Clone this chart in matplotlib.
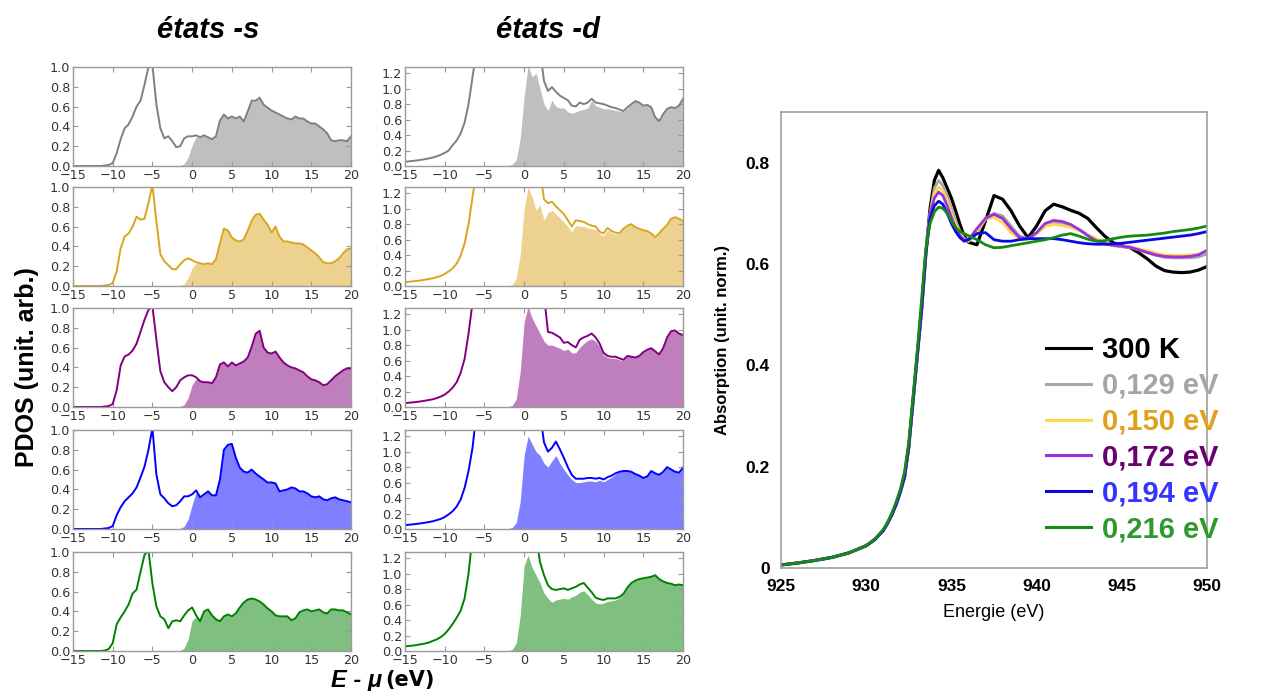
import numpy as np
import matplotlib
matplotlib.use("Agg")
import matplotlib.pyplot as plt
from matplotlib.ticker import FormatStrFormatter

# %%
## PDOS data, E - mu grid in eV (0.5 eV step)
energy = np.arange(-15, 20.5, 0.5)

s_gray = [0, 0, 0, 0, 0, 0, 0, 0, 0.005,
          0.01, 0.03, 0.13, 0.27, 0.38, 0.42, 0.5, 0.6, 0.66, 0.82,
          1.0, 1.02, 0.62, 0.38, 0.28, 0.3, 0.25, 0.19, 0.2, 0.28,
          0.3, 0.3, 0.31, 0.29, 0.31, 0.29, 0.27, 0.3, 0.46, 0.52,
          0.48, 0.5, 0.48, 0.5, 0.45, 0.55, 0.66, 0.66, 0.69, 0.62,
          0.59, 0.56, 0.54, 0.52, 0.5, 0.48, 0.47, 0.5, 0.48, 0.48,
          0.45, 0.43, 0.43, 0.4, 0.37, 0.33, 0.26, 0.25, 0.26, 0.26,
          0.25, 0.3]
s_gold = [0, 0, 0, 0, 0, 0, 0, 0, 0.005,
          0.01, 0.03, 0.15, 0.38, 0.5, 0.53, 0.6, 0.7, 0.67, 0.68,
          0.84, 1.02, 0.65, 0.32, 0.25, 0.21, 0.17, 0.17, 0.22, 0.26,
          0.28, 0.26, 0.24, 0.23, 0.22, 0.23, 0.22, 0.27, 0.43, 0.58,
          0.56, 0.49, 0.46, 0.45, 0.47, 0.56, 0.66, 0.72, 0.73, 0.67,
          0.62, 0.54, 0.6, 0.5, 0.45, 0.45, 0.44, 0.43, 0.43, 0.42,
          0.39, 0.36, 0.33, 0.29, 0.24, 0.23, 0.23, 0.25, 0.28, 0.33,
          0.37, 0.38]
s_purple = [0, 0, 0, 0, 0, 0, 0, 0, 0.005,
            0.01, 0.03, 0.17, 0.42, 0.51, 0.53, 0.57, 0.64, 0.76, 0.88,
            0.98, 1.02, 0.68, 0.36, 0.25, 0.2, 0.16, 0.2, 0.27, 0.3,
            0.32, 0.32, 0.3, 0.26, 0.25, 0.25, 0.24, 0.3, 0.43, 0.45,
            0.41, 0.45, 0.42, 0.44, 0.46, 0.5, 0.61, 0.74, 0.77, 0.6,
            0.55, 0.54, 0.56, 0.5, 0.45, 0.42, 0.4, 0.39, 0.37, 0.35,
            0.31, 0.28, 0.27, 0.25, 0.22, 0.23, 0.27, 0.31, 0.34, 0.37,
            0.39, 0.39]
s_blue = [0, 0, 0, 0, 0, 0, 0, 0, 0.005,
          0.01, 0.03, 0.14, 0.22, 0.28, 0.32, 0.36, 0.42, 0.52, 0.63,
          0.8, 1.02, 0.55, 0.35, 0.31, 0.26, 0.23, 0.24, 0.28, 0.33,
          0.33, 0.35, 0.39, 0.32, 0.35, 0.38, 0.34, 0.34, 0.5, 0.8,
          0.85, 0.86, 0.72, 0.62, 0.58, 0.57, 0.6, 0.56, 0.53, 0.5,
          0.47, 0.47, 0.46, 0.38, 0.39, 0.4, 0.42, 0.41, 0.38, 0.38,
          0.36, 0.33, 0.32, 0.33, 0.3, 0.29, 0.31, 0.32, 0.3, 0.29,
          0.28, 0.27]
s_green = [0, 0, 0, 0, 0, 0, 0, 0, 0.005,
           0.02, 0.08, 0.27, 0.34, 0.4, 0.47, 0.58, 0.62, 0.8, 0.97,
           1.02, 0.68, 0.45, 0.35, 0.32, 0.23, 0.3, 0.31, 0.3, 0.36,
           0.41, 0.44, 0.36, 0.3, 0.4, 0.42, 0.36, 0.32, 0.3, 0.35,
           0.37, 0.35, 0.38, 0.44, 0.49, 0.52, 0.53, 0.52, 0.5, 0.47,
           0.43, 0.4, 0.36, 0.35, 0.35, 0.35, 0.31, 0.33, 0.39, 0.41,
           0.42, 0.4, 0.41, 0.42, 0.39, 0.38, 0.42, 0.42, 0.41, 0.41,
           0.39, 0.37]
# unoccupied part of the s states (share of the curve that is shaded)
s_fill_frac = [0] * 27 + [0.02, 0.08, 0.3, 0.7, 0.95, 1.0] + [1] * 38

d_gray = ([0.055, 0.06, 0.066, 0.072, 0.08, 0.088, 0.098, 0.11, 0.125,
           0.145, 0.17, 0.2, 0.27, 0.33, 0.42, 0.56, 0.8, 1.15]
          + [1.5] * 17
          + [1.1, 0.97, 1.02, 0.96, 0.91, 0.88, 0.85, 0.78, 0.77, 0.82,
             0.8, 0.82, 0.87, 0.82, 0.81, 0.8, 0.78, 0.76, 0.75, 0.73,
             0.71, 0.76, 0.8, 0.84, 0.82, 0.78, 0.79, 0.76, 0.63, 0.58,
             0.67, 0.74, 0.76, 0.75, 0.78, 0.87])
d_gray_fill = ([0] * 26
               + [0.005, 0.02, 0.08, 0.35, 0.9, 1.3, 1.15, 1.2, 1.0]
               + [0.8, 0.72, 0.85, 0.77, 0.75, 0.75, 0.7, 0.68, 0.7, 0.72,
                  0.73, 0.75, 0.85, 0.78, 0.76, 0.74, 0.74, 0.73, 0.72, 0.71,
                  0.7, 0.75, 0.8, 0.84, 0.82, 0.78, 0.79, 0.76, 0.63, 0.58,
                  0.67, 0.74, 0.76, 0.75, 0.78, 0.87])
d_gold = ([0.05, 0.055, 0.06, 0.066, 0.073, 0.081, 0.09, 0.1, 0.115,
           0.13, 0.155, 0.19, 0.23, 0.29, 0.39, 0.55, 0.8, 1.15]
          + [1.5] * 17
          + [1.12, 1.07, 1.09, 1.03, 0.98, 0.93, 0.85, 0.77, 0.85, 0.84,
             0.83, 0.8, 0.78, 0.77, 0.7, 0.68, 0.75, 0.71, 0.69, 0.68,
             0.74, 0.78, 0.8, 0.76, 0.74, 0.72, 0.71, 0.68, 0.63, 0.68,
             0.74, 0.79, 0.87, 0.89, 0.87, 0.84])
d_gold_fill = ([0] * 26
               + [0.005, 0.02, 0.1, 0.4, 1.0, 1.28, 1.15, 0.98, 1.05]
               + [0.85, 0.95, 0.98, 0.93, 0.88, 0.83, 0.77, 0.7, 0.78, 0.77,
                  0.77, 0.75, 0.74, 0.73, 0.67, 0.65, 0.72, 0.69, 0.67, 0.67,
                  0.74, 0.78, 0.8, 0.76, 0.74, 0.72, 0.71, 0.68, 0.63, 0.68,
                  0.74, 0.79, 0.87, 0.89, 0.87, 0.84])
d_purple = ([0.05, 0.055, 0.06, 0.066, 0.073, 0.081, 0.09, 0.1, 0.115,
             0.135, 0.16, 0.2, 0.25, 0.32, 0.44, 0.62, 0.95, 1.35]
            + [1.5] * 17
            + [1.45, 0.97, 0.96, 0.93, 0.9, 0.83, 0.84, 0.8, 0.77, 0.87,
               0.9, 0.92, 0.95, 0.9, 0.82, 0.7, 0.66, 0.65, 0.65, 0.63,
               0.61, 0.66, 0.65, 0.64, 0.66, 0.71, 0.74, 0.76, 0.72, 0.68,
               0.76, 0.9, 0.98, 0.99, 0.95, 0.93])
d_purple_fill = ([0] * 26
                 + [0.005, 0.02, 0.1, 0.45, 1.1, 1.3, 1.15, 1.05, 0.95]
                 + [0.85, 0.8, 0.8, 0.78, 0.76, 0.73, 0.75, 0.7, 0.7, 0.77,
                    0.82, 0.86, 0.88, 0.85, 0.78, 0.67, 0.64, 0.63, 0.63, 0.61,
                    0.6, 0.66, 0.65, 0.64, 0.66, 0.71, 0.74, 0.76, 0.72, 0.68,
                    0.76, 0.9, 0.98, 0.99, 0.95, 0.93])
d_blue = ([0.05, 0.055, 0.06, 0.066, 0.073, 0.081, 0.09, 0.1, 0.115,
           0.13, 0.155, 0.19, 0.23, 0.29, 0.38, 0.53, 0.75, 1.05]
          + [1.5] * 17
          + [1.12, 1.0, 1.05, 1.13, 1.03, 0.92, 0.8, 0.7, 0.65, 0.65,
             0.65, 0.66, 0.66, 0.65, 0.66, 0.64, 0.67, 0.69, 0.72, 0.74,
             0.75, 0.75, 0.74, 0.71, 0.69, 0.66, 0.68, 0.75, 0.72, 0.7,
             0.74, 0.8, 0.77, 0.74, 0.73, 0.79])
d_blue_fill = ([0] * 26
               + [0.005, 0.02, 0.08, 0.35, 0.95, 1.2, 1.1, 1.0, 0.95]
               + [0.85, 0.8, 0.88, 0.95, 0.85, 0.77, 0.7, 0.64, 0.6, 0.6,
                  0.61, 0.62, 0.62, 0.61, 0.63, 0.61, 0.64, 0.67, 0.71, 0.74,
                  0.75, 0.75, 0.74, 0.71, 0.69, 0.66, 0.68, 0.75, 0.72, 0.7,
                  0.74, 0.8, 0.77, 0.74, 0.73, 0.79])
d_green = ([0.06, 0.065, 0.07, 0.078, 0.087, 0.097, 0.11, 0.13, 0.15,
            0.18, 0.22, 0.28, 0.35, 0.43, 0.52, 0.68, 1.0]
           + [1.5] * 17
           + [1.15]
           + [0.98, 0.85, 0.8, 0.79, 0.8, 0.81, 0.79, 0.81, 0.83, 0.86,
              0.88, 0.82, 0.76, 0.69, 0.67, 0.66, 0.68, 0.68, 0.68, 0.7,
              0.74, 0.82, 0.88, 0.91, 0.93, 0.94, 0.95, 0.96, 0.98, 0.93,
              0.9, 0.88, 0.87, 0.85, 0.86, 0.85])
d_green_fill = ([0] * 26
                + [0.005, 0.02, 0.1, 0.45, 1.1, 1.24, 1.08, 0.98, 0.88]
                + [0.75, 0.68, 0.63, 0.66, 0.67, 0.68, 0.67, 0.7, 0.72, 0.76,
                   0.78, 0.73, 0.67, 0.62, 0.61, 0.62, 0.64, 0.65, 0.66, 0.69,
                   0.74, 0.82, 0.88, 0.91, 0.93, 0.94, 0.95, 0.96, 0.98, 0.93,
                   0.9, 0.88, 0.87, 0.85, 0.86, 0.85])

pdos_colors = ["gray", "goldenrod", "purple", "blue", "green"]
s_curves = [s_gray, s_gold, s_purple, s_blue, s_green]
d_curves = [d_gray, d_gold, d_purple, d_blue, d_green]
d_fills = [d_gray_fill, d_gold_fill, d_purple_fill, d_blue_fill, d_green_fill]

# %%
## XAS data, photon energy in eV
xas_energy = [925, 926, 927, 928, 929, 930, 930.5,
              931, 931.25, 931.5, 931.75, 932, 932.25, 932.5, 932.75,
              933, 933.25, 933.5, 933.75, 934, 934.25, 934.5, 934.75,
              935, 935.25, 935.5, 935.75, 936,
              936.5, 937, 937.5, 938, 938.5, 939, 939.5, 940, 940.5, 941,
              941.5, 942, 942.5, 943, 943.5, 944, 944.5, 945, 945.5, 946,
              946.5, 947, 947.5, 948, 948.5, 949, 949.5, 950]
xas_300k = [0.006, 0.01, 0.015, 0.021, 0.03, 0.044, 0.056,
            0.074, 0.088, 0.105, 0.125, 0.15, 0.18, 0.24, 0.33,
            0.42, 0.51, 0.62, 0.71, 0.765, 0.785, 0.77, 0.75,
            0.73, 0.705, 0.678, 0.655, 0.643,
            0.638, 0.685, 0.735, 0.728, 0.705, 0.675, 0.652, 0.675, 0.705, 0.718,
            0.713, 0.706, 0.7, 0.69, 0.672, 0.655, 0.642, 0.636, 0.632, 0.622,
            0.61, 0.596, 0.587, 0.584, 0.583, 0.584, 0.588, 0.595]
xas_129 = [0.006, 0.01, 0.015, 0.021, 0.03, 0.044, 0.056,
           0.074, 0.088, 0.105, 0.125, 0.15, 0.18, 0.24, 0.33,
           0.42, 0.51, 0.62, 0.7, 0.75, 0.765, 0.755, 0.735,
           0.71, 0.685, 0.665, 0.65, 0.645,
           0.66, 0.69, 0.7, 0.695, 0.675, 0.655, 0.65, 0.66, 0.675, 0.68,
           0.68, 0.675, 0.668, 0.658, 0.648, 0.64, 0.636, 0.634, 0.632, 0.628,
           0.622, 0.617, 0.613, 0.612, 0.612, 0.612, 0.614, 0.62]
xas_150 = [0.006, 0.01, 0.015, 0.021, 0.03, 0.044, 0.056,
           0.074, 0.088, 0.105, 0.125, 0.15, 0.18, 0.24, 0.33,
           0.42, 0.51, 0.62, 0.7, 0.74, 0.752, 0.745, 0.725,
           0.7, 0.678, 0.66, 0.648, 0.645,
           0.665, 0.688, 0.692, 0.682, 0.662, 0.648, 0.648, 0.66, 0.675, 0.678,
           0.676, 0.672, 0.666, 0.658, 0.65, 0.642, 0.637, 0.635, 0.634, 0.63,
           0.626, 0.622, 0.618, 0.617, 0.617, 0.618, 0.62, 0.625]
xas_172 = [0.006, 0.01, 0.015, 0.021, 0.03, 0.044, 0.056,
           0.074, 0.088, 0.105, 0.125, 0.15, 0.18, 0.24, 0.33,
           0.42, 0.51, 0.62, 0.7, 0.73, 0.742, 0.735, 0.715,
           0.692, 0.672, 0.656, 0.647, 0.648,
           0.67, 0.69, 0.698, 0.69, 0.67, 0.652, 0.65, 0.662, 0.68, 0.686,
           0.684, 0.678, 0.668, 0.656, 0.646, 0.64, 0.637, 0.635, 0.633, 0.628,
           0.623, 0.618, 0.615, 0.614, 0.614, 0.615, 0.618, 0.627]
xas_194 = [0.006, 0.01, 0.015, 0.021, 0.03, 0.044, 0.056,
           0.074, 0.088, 0.105, 0.125, 0.15, 0.18, 0.24, 0.33,
           0.42, 0.51, 0.62, 0.69, 0.715, 0.724, 0.718, 0.7,
           0.68, 0.664, 0.652, 0.645, 0.648,
           0.66, 0.662, 0.648, 0.645, 0.645, 0.648, 0.65, 0.65, 0.65, 0.65,
           0.648, 0.645, 0.642, 0.64, 0.639, 0.639, 0.64, 0.641, 0.643, 0.645,
           0.647, 0.649, 0.651, 0.653, 0.655, 0.657, 0.66, 0.664]
xas_216 = [0.006, 0.01, 0.015, 0.021, 0.03, 0.044, 0.057,
           0.076, 0.09, 0.108, 0.13, 0.155, 0.19, 0.25, 0.34,
           0.43, 0.53, 0.63, 0.68, 0.703, 0.712, 0.71, 0.7,
           0.685, 0.672, 0.664, 0.66, 0.656,
           0.648, 0.638, 0.632, 0.633, 0.636, 0.639, 0.642, 0.645, 0.648, 0.652,
           0.657, 0.66, 0.655, 0.649, 0.645, 0.646, 0.65, 0.653, 0.655, 0.656,
           0.657, 0.659, 0.661, 0.664, 0.666, 0.668, 0.671, 0.675]

xas_curves = [xas_300k, xas_129, xas_150, xas_172, xas_194, xas_216]
xas_labels = ["300 K", "0,129 eV", "0,150 eV", "0,172 eV", "0,194 eV", "0,216 eV"]
xas_line_colors = ["black", "#a6a6a6", "#ffd84a", "#9b30e0", "#0a0ae0", "#168a16"]
xas_text_colors = ["black", "#a6a6a6", "#e0a01e", "#6b0070", "#3535ff", "#2e9a2e"]

# %%
W, H = 1262, 691
fig = plt.figure(figsize=(W / 100, H / 100), dpi=100)

row_tops = [67, 187, 308, 430, 552]
row_h = 99
col_left = {"s": 73, "d": 405}
col_w = 278


def style_pdos(ax, ymax, yticks):
    ax.set_xlim(-15, 20)
    ax.set_ylim(0, ymax)
    ax.set_xticks(range(-15, 21, 5))
    ax.set_yticks(yticks)
    ax.yaxis.set_major_formatter(FormatStrFormatter("%.1f"))
    ax.tick_params(direction="in", top=True, right=True, length=3.5, width=0.8,
                   color="#999999", labelsize=9.2, labelcolor="#333333", pad=2)
    for sp in ax.spines.values():
        sp.set_color("#9a9a9a")
        sp.set_linewidth(1.0)


for top, c, s_y, d_y, d_f in zip(row_tops, pdos_colors, s_curves, d_curves, d_fills):
    bottom = 1 - (top + row_h) / H

    ## s states
    ax = fig.add_axes([col_left["s"] / W, bottom, col_w / W, row_h / H])
    s_fill = np.array(s_y) * np.array(s_fill_frac)
    ax.fill_between(energy, 0, s_fill, color=c, alpha=0.5, lw=0)
    ax.plot(energy, s_y, color=c, lw=1.4)
    style_pdos(ax, 1.0, [0, 0.2, 0.4, 0.6, 0.8, 1.0])

    ## d states
    ax = fig.add_axes([col_left["d"] / W, bottom, col_w / W, row_h / H])
    ax.fill_between(energy, 0, d_f, color=c, alpha=0.5, lw=0)
    ax.plot(energy, d_y, color=c, lw=1.4)
    style_pdos(ax, 1.28, [0, 0.2, 0.4, 0.6, 0.8, 1.0, 1.2])

fig.text(208 / W, 1 - 30 / H, "états -s", ha="center", va="center",
         fontsize=21, weight="bold", style="italic", family="Liberation Sans")
fig.text(548 / W, 1 - 30 / H, "états -d", ha="center", va="center",
         fontsize=21, weight="bold", style="italic", family="Liberation Sans")
fig.text(27 / W, 1 - 367 / H, "PDOS (unit. arb.)", ha="center", va="center",
         rotation=90, fontsize=18, weight="bold", family="Liberation Sans")
fig.text(382 / W, 1 - 680 / H, "E - μ", ha="right", va="center",
         fontsize=17, weight="bold", style="italic", family="Liberation Sans")
fig.text(385 / W, 1 - 680 / H, "(eV)", ha="left", va="center",
         fontsize=15, weight="bold", family="DejaVu Sans")

# %%
## XAS panel
ax = fig.add_axes([781 / W, 1 - 568 / H, 426 / W, 456 / H])
for y, c in zip(xas_curves, xas_line_colors):
    ax.plot(xas_energy, y, color=c, lw=2.3 if c == "black" else 2.0)
ax.set_xlim(925, 950)
ax.set_ylim(0, 0.9)
ax.set_xticks([925, 930, 935, 940, 945, 950])
ax.set_yticks([0, 0.2, 0.4, 0.6, 0.8])
ax.set_yticklabels(["0", "0.2", "0.4", "0.6", "0.8"])
ax.tick_params(length=0, labelsize=12.5, pad=8)
for lab in ax.get_xticklabels() + ax.get_yticklabels():
    lab.set_fontweight("bold")
    lab.set_family("Liberation Sans")
for sp in ax.spines.values():
    sp.set_color("#a0a0a0")
    sp.set_linewidth(1.2)
ax.set_ylabel("Absorption (unit. norm.)", fontsize=12, weight="bold",
              family="Liberation Sans")
ax.yaxis.set_label_coords(-0.12, 0.5)
ax.set_xlabel("Energie (eV)", fontsize=13, family="Liberation Sans")
ax.xaxis.set_label_coords(0.5, -0.08)

leg = ax.legend(xas_labels, loc="upper left", frameon=False,
                bbox_to_anchor=(1046 / W, 1 - 336 / H), bbox_transform=fig.transFigure,
                borderpad=0, borderaxespad=0, handlelength=1.55, handletextpad=0.38,
                labelspacing=0.27, labelcolor=xas_text_colors,
                prop={"family": "Liberation Sans", "weight": "bold", "size": 21})
for line in leg.get_lines():
    line.set_linewidth(2.2)

fig.savefig("out.png", dpi=100)
